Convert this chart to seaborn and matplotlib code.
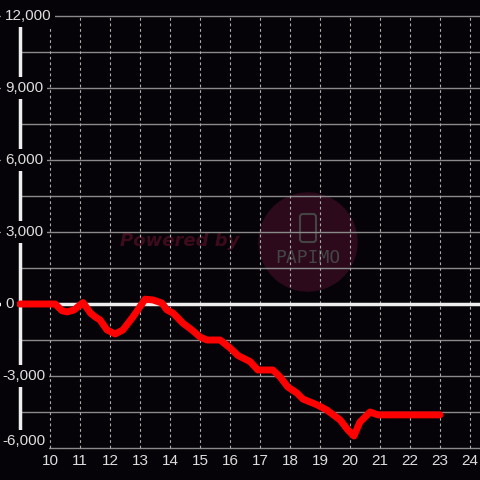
import numpy as np
import pandas as pd
import seaborn as sns
import matplotlib.pyplot as plt
from matplotlib.patches import Circle, FancyBboxPatch

# hours of the day vs running value
hours = [9.0, 10.17, 10.4, 10.57, 10.8, 11.1, 11.35, 11.5, 11.67, 11.9, 12.17,
         12.43, 12.77, 13.17, 13.43, 13.73, 13.9, 14.1, 14.43, 14.73, 15.0,
         15.23, 15.67, 16.0, 16.27, 16.67, 16.93, 17.43, 17.67, 17.93, 18.23,
         18.43, 18.9, 19.23, 19.67, 19.93, 20.13, 20.33, 20.67, 20.93, 23.0]
values = [0, 0, -280, -330, -250, 60, -380, -530, -670, -1080, -1250,
          -1080, -530, 200, 170, 40, -250, -375, -800, -1080, -1375,
          -1500, -1500, -1830, -2150, -2400, -2750, -2750, -3040, -3460, -3710,
          -3960, -4200, -4420, -4830, -5250, -5500, -4920, -4500, -4620, -4620]

x_ticks = list(range(10, 25))
y_major = [12000, 9000, 6000, 3000, 0, -3000, -6000]
y_minor = [10500, 7500, 4500, 1500, -1500, -4500]

df = pd.DataFrame({"hour": hours, "value": values})

bg = "#050307"
sns.set_style("dark")
plt.rcParams["font.family"] = ["Liberation Sans", "DejaVu Sans"]
fig = plt.figure(figsize=(4.8, 4.8), dpi=100, facecolor=bg)
ax = fig.add_axes([0, 0, 1, 1])
ax.set_facecolor(bg)

px = 1 / 30.0          # hours per pixel
vy = 3000 / 72.0       # value per pixel
x0 = 9 - 20 * px
x1 = x0 + 480 * px
ax.set_xlim(x0, x1)
ax.set_ylim(-(480 - 304) * vy, 304 * vy)
for s in ax.spines.values():
    s.set_visible(False)
ax.set_xticks([])
ax.set_yticks([])
ax.grid(False)

# watermark (behind the grid)
ax.add_patch(Circle((308 / 480, 1 - 242 / 480), 49 / 480,
                    transform=fig.transFigure, color="#2c0a1c", zorder=0.5))
ax.add_patch(FancyBboxPatch((300 / 480, 1 - 242 / 480), 16 / 480, 28 / 480,
                            boxstyle="round,pad=0,rounding_size=0.006",
                            transform=fig.transFigure, fill=False,
                            ec="#444444", lw=1.5, zorder=0.6))
ax.text(9 + 160 * px, 63 * vy, "Powered by", color="#3c0b1c", fontsize=13,
        fontweight="bold", fontstyle="italic", ha="center", va="center",
        family="DejaVu Sans", zorder=0.6)
ax.text(9 + 288 * px, 46 * vy, "PAPIMO", color="#444444", fontsize=13,
        family="DejaVu Sans Mono", ha="center", va="center", zorder=0.6)

# grid
for v in y_major:
    ax.axhline(v, color="#8a8a8a", lw=1, zorder=1)
for v in y_minor:
    ax.plot([9, x1], [v, v], color="#8a8a8a", lw=1, zorder=1)
for h in x_ticks:
    ax.plot([h, h], [-6000, 12000], color="#aaaaaa", lw=0.8,
            ls=(0, (2.5, 2.5)), zorder=1)

ax.axhline(0, color="#eeeeee", lw=2.5, zorder=2)
ax.plot([9, 9], [-6000, 12000], color="#eeeeee", lw=2.5, zorder=2)

sns.lineplot(data=df, x="hour", y="value", color="#ff0000", lw=5,
             ax=ax, zorder=3, legend=False)
ax.lines[-1].set_solid_joinstyle("round")
ax.set_xlabel("")
ax.set_ylabel("")

# tick labels
for v in y_major:
    lab = f"{v:,}"
    xpos = x0 + (2 if v < 0 else 5) * px
    ypos = max(v, -6000 + 7 * vy)
    ax.text(xpos, ypos, lab, color="#dddddd", fontsize=11, ha="left",
            va="center", zorder=4,
            bbox=dict(boxstyle="square,pad=0.25", fc=bg, ec="none"))
for h in x_ticks:
    ax.text(h, -(461 - 304) * vy, str(h), color="#dddddd", fontsize=11,
            ha="center", va="center", zorder=4)

fig.savefig("out.png", dpi=100, facecolor=bg)
